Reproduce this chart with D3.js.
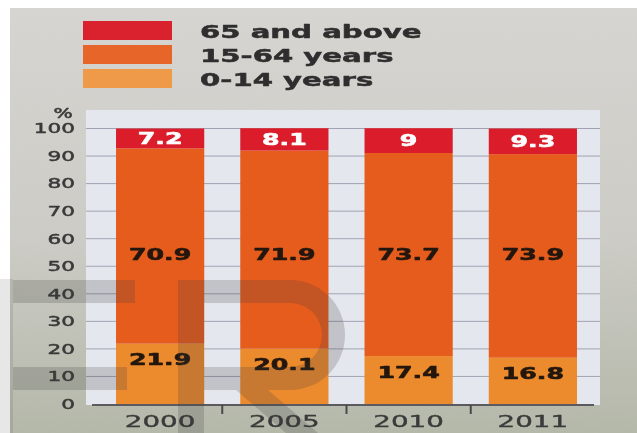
<!DOCTYPE html>
<html>
<head>
<meta charset="utf-8">
<script src="https://cdn.jsdelivr.net/npm/d3@7/dist/d3.min.js"></script>
<style>
  html, body { margin: 0; padding: 0; background: #ffffff; }
  svg { display: block; }
</style>
</head>
<body>
<svg id="chart" width="637" height="433"></svg>
<script>
// Population by age group, share of total (%)
const years = ["2000", "2005", "2010", "2011"];
const age0to14 = [21.9, 20.1, 17.4, 16.8];
const age15to64 = [70.9, 71.9, 73.7, 73.9];
const age65plus = [7.2, 8.1, 9, 9.3];
const seriesKeys = ["young", "working", "old"];
const legendLabels = ["65 and above", "15-64 years", "0-14 years"];
const yTickValues = [0, 10, 20, 30, 40, 50, 60, 70, 80, 90, 100];

const svg = d3.select("#chart");
const W = 637, H = 433;

const colors = { old: "#db1f2b", working: "#e65b1f", young: "#ec8a2d" };
const legendColors = ["#d9232f", "#e8652b", "#ee9a48"];

// paper background with a photographic tint
const defs = svg.append("defs");
const grad = defs.append("linearGradient").attr("id", "paper")
  .attr("x1", 0).attr("y1", 0).attr("x2", 0).attr("y2", 1);
grad.append("stop").attr("offset", "0%").attr("stop-color", "#d8d6d2");
grad.append("stop").attr("offset", "55%").attr("stop-color", "#cdccc6");
grad.append("stop").attr("offset", "100%").attr("stop-color", "#b4b8a8");
const noise = defs.append("filter").attr("id", "grain").attr("x", 0).attr("y", 0).attr("width", 1).attr("height", 1);
noise.append("feTurbulence").attr("type", "fractalNoise").attr("baseFrequency", 0.9).attr("numOctaves", 2).attr("seed", 3).attr("result", "n");
noise.append("feColorMatrix").attr("in", "n").attr("type", "matrix")
  .attr("values", "0 0 0 0 0.5  0 0 0 0 0.5  0 0 0 0 0.5  0 0 0 0.10 0");
noise.append("feComposite").attr("in2", "SourceGraphic").attr("operator", "in");
defs.append("filter").attr("id", "soft").append("feGaussianBlur").attr("stdDeviation", 0.45);

svg.append("rect").attr("width", W).attr("height", H).attr("fill", "#ffffff");
svg.append("rect").attr("x", 10).attr("y", 8).attr("width", W - 10).attr("height", H - 8).attr("fill", "url(#paper)");
svg.append("rect").attr("x", 10).attr("y", 8).attr("width", W - 10).attr("height", H - 8).attr("fill", "#888").attr("filter", "url(#grain)");

const root = svg.append("g").attr("filter", "url(#soft)");

// horizontally stretched text helper
function stretchedText(parent, x, y, str, opts) {
  const g = parent.append("g").attr("transform", `translate(${x},${y}) scale(${opts.sx},1)`);
  const t = g.append("text")
    .attr("x", 0).attr("y", 0)
    .attr("text-anchor", opts.anchor || "start")
    .attr("dominant-baseline", opts.baseline || "alphabetic")
    .attr("font-family", "'DejaVu Sans', Verdana, sans-serif")
    .attr("font-size", opts.size)
    .attr("font-weight", opts.weight || "normal")
    .attr("fill", opts.fill)
    .text(str);
  if (opts.heavy) t.attr("stroke", opts.fill).attr("stroke-width", opts.heavy).attr("stroke-linejoin", "round");
  return t;
}

// legend
const legend = root.append("g");
const legendY = [21, 45, 69];
legendLabels.forEach((lab, i) => {
  legend.append("rect").attr("x", 83).attr("y", legendY[i]).attr("width", 89).attr("height", 19).attr("fill", legendColors[i]);
  stretchedText(legend, 200, legendY[i] + 16.5, lab, { sx: 1.62, size: 18, weight: "bold", fill: "#2f2f2f", heavy: 0.5 });
});

// scales
const plot = { left: 86, right: 600, top: 110, bottom: 405 };
const x = d3.scaleBand().domain(years).range([98, 595]).paddingInner(0.29).paddingOuter(0.145);
const y = d3.scaleLinear().domain([0, 100]).range([404, 128.5]);

// plot panel
root.append("rect").attr("x", plot.left).attr("y", plot.top)
  .attr("width", plot.right - plot.left).attr("height", plot.bottom - plot.top).attr("fill", "#e5e7ef");

// grid lines
root.append("g").selectAll("line").data(yTickValues.slice(1)).join("line")
  .attr("x1", plot.left).attr("x2", plot.right)
  .attr("y1", d => y(d)).attr("y2", d => y(d))
  .attr("stroke", "#a2a3b2").attr("stroke-width", 1);

// y tick labels
const yLab = root.append("g");
yTickValues.forEach(v => {
  stretchedText(yLab, 75, y(v), String(v), { sx: 1.6, size: 13.5, fill: "#3a3a3a", anchor: "end", baseline: "central", heavy: 0.5 });
});
stretchedText(yLab, 63, 113, "%", { sx: 1.5, size: 13.5, fill: "#3a3a3a", anchor: "middle", baseline: "central", heavy: 0.5 });

// stacked bars
const rows = years.map((yr, i) => ({ year: yr, young: age0to14[i], working: age15to64[i], old: age65plus[i] }));
const stacked = d3.stack().keys(seriesKeys)(rows);

root.append("g").selectAll("g").data(stacked).join("g")
  .attr("fill", s => colors[s.key])
  .selectAll("rect").data(s => s).join("rect")
  .attr("x", d => x(d.data.year))
  .attr("width", x.bandwidth())
  .attr("y", d => y(d[1]))
  .attr("height", d => y(d[0]) - y(d[1]));

// value labels
const labels = root.append("g");
stacked.forEach(s => {
  s.forEach(d => {
    const cx = x(d.data.year) + x.bandwidth() / 2;
    const v = d.data[s.key];
    let cy, fill;
    if (s.key === "old") { cy = (y(d[0]) + y(d[1])) / 2; fill = "#ffffff"; }
    else if (s.key === "working") { cy = y(54.5); fill = "#24180f"; }
    else { cy = y(d[1]) + 16; fill = "#24180f"; }
    stretchedText(labels, cx, cy, String(v), { sx: 1.58, size: 16, weight: "bold", fill, anchor: "middle", baseline: "central", heavy: 0.6 });
  });
});

// x axis
root.append("line").attr("x1", 92).attr("x2", 594).attr("y1", plot.bottom).attr("y2", plot.bottom)
  .attr("stroke", "#5a5a5e").attr("stroke-width", 2);
const sep = years.slice(1).map(yr => x(yr) - x.step() * x.paddingInner() / 2);
root.append("g").selectAll("line").data(sep).join("line")
  .attr("x1", d => d).attr("x2", d => d).attr("y1", plot.bottom).attr("y2", plot.bottom + 9)
  .attr("stroke", "#4a4a4e").attr("stroke-width", 2);
const xLab = root.append("g");
years.forEach(yr => {
  stretchedText(xLab, x(yr) + x.bandwidth() / 2, 421, yr, { sx: 1.68, size: 16.5, fill: "#3a3a3a", anchor: "middle", baseline: "central", heavy: 0.4 });
});

// translucent logo overlay
const mark = svg.append("g").attr("fill", "rgb(60,60,60)").attr("fill-opacity", 0.21);
mark.append("rect").attr("x", 0).attr("y", 279).attr("width", 13).attr("height", H - 279).attr("fill-opacity", 0.12);
mark.append("rect").attr("x", 13).attr("y", 280).attr("width", 122).attr("height", 23);
mark.append("rect").attr("x", 13).attr("y", 367).attr("width", 114).attr("height", 23);
mark.append("path").attr("fill-rule", "evenodd")
  .attr("d", "M178,280 H290 A55,55 0 0 1 290,390 H268 L318,433 H286 L236,390 H204 V433 H178 Z " +
             "M204,303 H290 A32,32 0 0 1 290,367 H204 Z");
</script>
</body>
</html>
